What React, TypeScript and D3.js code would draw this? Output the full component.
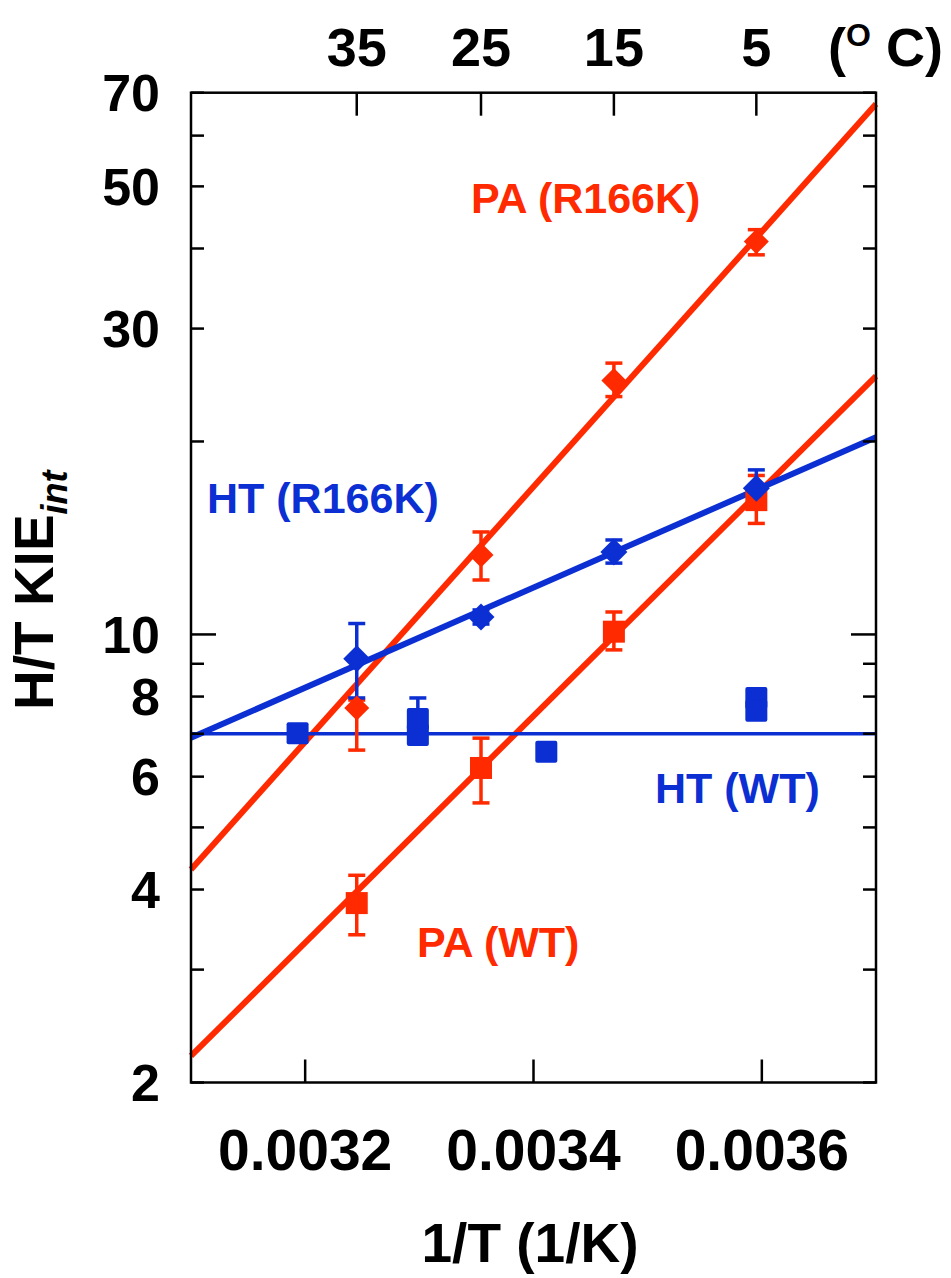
import React from "react";
import * as d3 from "d3";

// ---------- data ----------
// temperatures (deg C) of the measurements
const tempsR166K = [35, 25, 15, 5];
const tempsHTWT = [40, 30, 30, 20, 5, 5];

// PA (R166K) red diamonds
const paR166K = [7.68, 13.3, 24.9, 41.0];
const paR166KLo = [6.6, 12.16, 23.5, 39.1];
const paR166KHi = [7.9, 14.45, 26.5, 42.8];

// PA (WT) red squares
const paWT = [3.81, 6.19, 10.1, 16.2];
const paWTLo = [3.4, 5.46, 9.46, 14.9];
const paWTHi = [4.21, 6.89, 10.84, 17.7];

// HT (R166K) blue diamonds
const htR166K = [9.16, 10.65, 13.45, 16.9];
const htR166KLo = [7.96, 10.38, 12.92, 15.9];
const htR166KHi = [10.4, 10.92, 14.04, 18.06];

// HT (WT) blue squares
const htWT = [7.01, 7.38, 6.97, 6.56, 7.96, 7.6];
const htWTHi = [7.01, 7.96, 6.97, 6.56, 7.96, 7.6];

// fitted lines: values at the left (1/T = 0.0031) and right (1/T = 0.0037) edges
const fitX = [0.0031, 0.0037];
const fitPAR166K = [4.3, 67.2];
const fitPAWT = [2.2, 25.3];
const fitHTR166K = [6.9, 20.3];
const fitHTWT = [7.0, 7.0];

// axes
const xTicks = [0.0032, 0.0034, 0.0036];
const xTickLabels = ["0.0032", "0.0034", "0.0036"];
const topTempTicks = [35, 25, 15, 5];
const yTicks = [2, 3, 4, 5, 6, 7, 8, 9, 10, 20, 30, 40, 50, 60, 70];
const yLabelTicks = [2, 4, 6, 8, 10, 30, 50, 70];

const RED = "#ff2a00";
const BLUE = "#0b2fd2";
const FONT = "'Liberation Sans', Arial, Helvetica, sans-serif";

const invT = (c: number) => 1 / (c + 273.15);

export default function App() {
  const W = 951;
  const H = 1278;
  const x = d3.scaleLinear().domain([0.0031, 0.0037]).range([191, 876]);
  const y = d3.scaleLog().domain([2, 70]).range([1082.5, 92.7]);
  const [x0, x1] = x.range();
  const [yb, yt] = y.range();

  const line = d3
    .line<[number, number]>()
    .x((d) => x(d[0]))
    .y((d) => y(d[1]));

  const fitPath = (vals: number[]) =>
    line(fitX.map((v, i) => [v, vals[i]] as [number, number])) || "";

  const diamond = (cx: number, cy: number, r: number) =>
    `M${cx},${cy - r}L${cx + r},${cy}L${cx},${cy + r}L${cx - r},${cy}Z`;

  const errBar = (
    key: string,
    xv: number,
    lo: number,
    hi: number,
    color: string
  ) => {
    const cx = x(xv);
    const cw = 8.5;
    return (
      <g key={key} stroke={color} strokeWidth={3.5}>
        <line x1={cx} x2={cx} y1={y(lo)} y2={y(hi)} />
        <line x1={cx - cw} x2={cx + cw} y1={y(lo)} y2={y(lo)} />
        <line x1={cx - cw} x2={cx + cw} y1={y(hi)} y2={y(hi)} />
      </g>
    );
  };

  return (
    <svg
      width={W}
      height={H}
      style={{ position: "absolute", left: 0, top: 0, background: "#fff" }}
      fontFamily={FONT}
      fontWeight="bold"
    >
      <rect x={0} y={0} width={W} height={H} fill="#fff" />

      {/* fitted lines */}
      <g fill="none" strokeLinecap="butt">
        <path d={fitPath(fitPAR166K)} stroke={RED} strokeWidth={6} />
        <path d={fitPath(fitPAWT)} stroke={RED} strokeWidth={6} />
        <path d={fitPath(fitHTWT)} stroke={BLUE} strokeWidth={3.5} />
        <path d={fitPath(fitHTR166K)} stroke={BLUE} strokeWidth={6} />
      </g>

      {/* error bars */}
      {tempsR166K.map((t, i) => errBar("pr" + i, invT(t), paR166KLo[i], paR166KHi[i], RED))}
      {tempsR166K.map((t, i) => errBar("pw" + i, invT(t), paWTLo[i], paWTHi[i], RED))}
      {tempsR166K.map((t, i) => errBar("hr" + i, invT(t), htR166KLo[i], htR166KHi[i], BLUE))}
      {tempsHTWT.map((t, i) =>
        htWTHi[i] > htWT[i] ? errBar("hw" + i, invT(t), htWT[i], htWTHi[i], BLUE) : null
      )}

      {/* markers */}
      {tempsR166K.map((t, i) => (
        <path key={"mpr" + i} d={diamond(x(invT(t)), y(paR166K[i]), 12.5)} fill={RED} />
      ))}
      {tempsR166K.map((t, i) => (
        <rect
          key={"mpw" + i}
          x={x(invT(t)) - 11}
          y={y(paWT[i]) - 11}
          width={22}
          height={22}
          fill={RED}
        />
      ))}
      {tempsHTWT.map((t, i) => (
        <rect
          key={"mhw" + i}
          x={x(invT(t)) - 11}
          y={y(htWT[i]) - 11}
          width={22}
          height={22}
          rx={2}
          fill={BLUE}
        />
      ))}
      {tempsR166K.map((t, i) => (
        <path key={"mhr" + i} d={diamond(x(invT(t)), y(htR166K[i]), 13.5)} fill={BLUE} />
      ))}

      {/* frame */}
      <rect
        x={x0}
        y={yt}
        width={x1 - x0}
        height={yb - yt}
        fill="none"
        stroke="#000"
        strokeWidth={2.5}
      />

      {/* y ticks (left and right, inward) */}
      {yTicks.map((v) => {
        const len = v === 10 ? 25 : 13;
        return (
          <g key={"yt" + v} stroke="#000" strokeWidth={2.5}>
            <line x1={x0} x2={x0 + len} y1={y(v)} y2={y(v)} />
            <line x1={x1} x2={x1 - len} y1={y(v)} y2={y(v)} />
          </g>
        );
      })}
      {yLabelTicks.map((v) => (
        <text
          key={"yl" + v}
          x={160}
          y={y(v)}
          dy="0.36em"
          textAnchor="end"
          fontSize={52}
          fill="#000"
        >
          {v}
        </text>
      ))}

      {/* bottom ticks */}
      {xTicks.map((v, i) => (
        <g key={"xt" + v}>
          <line x1={x(v)} x2={x(v)} y1={yb} y2={yb - 23} stroke="#000" strokeWidth={2.5} />
          <text x={x(v)} y={1170} textAnchor="middle" fontSize={57} fill="#000">
            {xTickLabels[i]}
          </text>
        </g>
      ))}

      {/* top temperature ticks */}
      {topTempTicks.map((t) => (
        <g key={"tt" + t}>
          <line
            x1={x(invT(t))}
            x2={x(invT(t))}
            y1={yt}
            y2={yt + 23}
            stroke="#000"
            strokeWidth={2.5}
          />
          <text x={x(invT(t))} y={66} textAnchor="middle" fontSize={54} fill="#000">
            {t}
          </text>
        </g>
      ))}
      <text x={828} y={66} fontSize={54} fill="#000">
        (
        <tspan dy={-20} fontSize={32}>
          O
        </tspan>
        <tspan dy={20}> C)</tspan>
      </text>

      {/* axis titles */}
      <text x={530} y={1262} textAnchor="middle" fontSize={55} fill="#000">
        1/T (1/K)
      </text>
      <text transform="translate(53,710) rotate(-90)" fontSize={55} fill="#000">
        H/T KIE
        <tspan dy={14} fontSize={36} fontStyle="italic">
          int
        </tspan>
      </text>

      {/* series labels */}
      <text x={471} y={213} fontSize={43} fill={RED}>
        PA (R166K)
      </text>
      <text x={207} y={513} fontSize={43} fill={BLUE}>
        HT (R166K)
      </text>
      <text x={655} y={803} fontSize={43} fill={BLUE}>
        HT (WT)
      </text>
      <text x={417} y={957} fontSize={43} fill={RED}>
        PA (WT)
      </text>
    </svg>
  );
}
